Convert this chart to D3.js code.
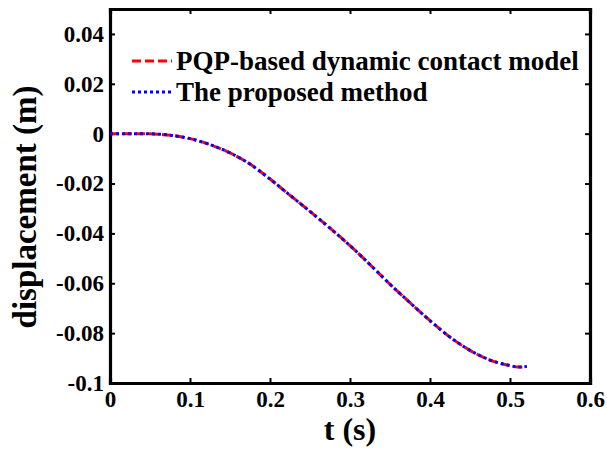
<!DOCTYPE html>
<html>
<head>
<meta charset="utf-8">
<script src="https://cdn.jsdelivr.net/npm/d3@7"></script>
<style>
  body { margin: 0; background: #fff; }
  text { font-family: "Liberation Serif", "Times New Roman", serif; font-weight: bold; }
</style>
</head>
<body>
<script>
// time samples (s) and displacement (m)
var tValues = [0, 0.02, 0.04, 0.06, 0.08, 0.1, 0.125, 0.15, 0.175, 0.2, 0.225, 0.25, 0.275,
  0.3, 0.325, 0.35, 0.375, 0.4, 0.425, 0.45, 0.475, 0.5, 0.51, 0.521];
var pqpValues = [0, 0, 0, -0.0002, -0.0008, -0.0020, -0.0044, -0.0077, -0.0122, -0.0182, -0.0247, -0.0312, -0.0379,
  -0.0449, -0.0525, -0.0604, -0.0678, -0.0750, -0.0816, -0.0869, -0.0908, -0.0930, -0.0936, -0.0934];
var proposedValues = [0, 0, 0, -0.0002, -0.0008, -0.0020, -0.0044, -0.0077, -0.0122, -0.0182, -0.0247, -0.0312, -0.0379,
  -0.0449, -0.0525, -0.0604, -0.0678, -0.0750, -0.0816, -0.0869, -0.0908, -0.0930, -0.0936, -0.0934];
var seriesNames = ["PQP-based dynamic contact model", "The proposed method"];
var xTicks = [0, 0.1, 0.2, 0.3, 0.4, 0.5, 0.6];
var yTicks = [0.04, 0.02, 0, -0.02, -0.04, -0.06, -0.08, -0.1];

var w = 607, h = 450;
var mLeft = 110, mRight = 590, mTop = 9, mBottom = 383;

var svg = d3.select("body").append("svg")
    .attr("width", w)
    .attr("height", h);

var x = d3.scaleLinear().domain([0, 0.6]).range([mLeft, mRight]);
var y = d3.scaleLinear().domain([-0.1, 0.05]).range([mBottom, mTop]);

//tick label formatter, matlab style
function fmt(d){ return d === 0 ? "0" : String(+d.toFixed(2)); }

//axes with inward ticks on all four sides
var axBottom = svg.append("g").attr("transform", "translate(0," + mBottom + ")")
    .call(d3.axisBottom(x).tickValues(xTicks).tickSize(-5).tickFormat(fmt).tickPadding(8));
var axTop = svg.append("g").attr("transform", "translate(0," + mTop + ")")
    .call(d3.axisTop(x).tickValues(xTicks).tickSize(-5).tickFormat(""));
var axLeft = svg.append("g").attr("transform", "translate(" + mLeft + ",0)")
    .call(d3.axisLeft(y).tickValues(yTicks).tickSize(-5).tickFormat(fmt).tickPadding(6));
var axRight = svg.append("g").attr("transform", "translate(" + mRight + ",0)")
    .call(d3.axisRight(y).tickValues(yTicks).tickSize(-5).tickFormat(""));

svg.selectAll(".domain").attr("stroke", "#000").attr("stroke-width", 3.2);
svg.selectAll(".tick line").attr("stroke", "#000").attr("stroke-width", 2);
svg.selectAll(".tick text").style("font-size", "23px").attr("fill", "#000");
axBottom.selectAll(".tick text").attr("dy", "0.71em");

//data lines
var line = d3.line()
    .x(function(d){ return x(d[0]); })
    .y(function(d){ return y(d[1]); })
    .curve(d3.curveMonotoneX);

var pqpData = tValues.map(function(t, i){ return [t, pqpValues[i]]; });
var propData = tValues.map(function(t, i){ return [t, proposedValues[i]]; });

svg.append("path").datum(pqpData)
    .attr("d", line).attr("fill", "none")
    .attr("stroke", "#ff0000").attr("stroke-width", 3)
    .attr("stroke-dasharray", "9,4");

svg.append("path").datum(propData)
    .attr("d", line).attr("fill", "none")
    .attr("stroke", "#0000ff").attr("stroke-width", 3)
    .attr("stroke-dasharray", "3,3");

//legend
var legY = [61, 92];
svg.append("line").attr("x1", 132).attr("x2", 172).attr("y1", legY[0]).attr("y2", legY[0])
    .attr("stroke", "#ff0000").attr("stroke-width", 3).attr("stroke-dasharray", "9,4");
svg.append("line").attr("x1", 132).attr("x2", 172).attr("y1", legY[1]).attr("y2", legY[1])
    .attr("stroke", "#0000ff").attr("stroke-width", 3).attr("stroke-dasharray", "3,3");
svg.selectAll(".legText")
    .data(seriesNames)
    .enter()
    .append("text")
    .attr("class", "legText")
    .attr("x", 176)
    .attr("y", function(d, i){ return legY[i] + 9; })
    .style("font-size", "27px")
    .text(function(d){ return d; });

//axis titles
svg.append("text")
    .attr("text-anchor", "middle")
    .attr("x", 350).attr("y", 440)
    .style("font-size", "32px")
    .text("t (s)");

svg.append("text")
    .attr("text-anchor", "middle")
    .attr("transform", "translate(36,207) rotate(-90)")
    .style("font-size", "33px")
    .text("displacement (m)");
</script>
</body>
</html>
